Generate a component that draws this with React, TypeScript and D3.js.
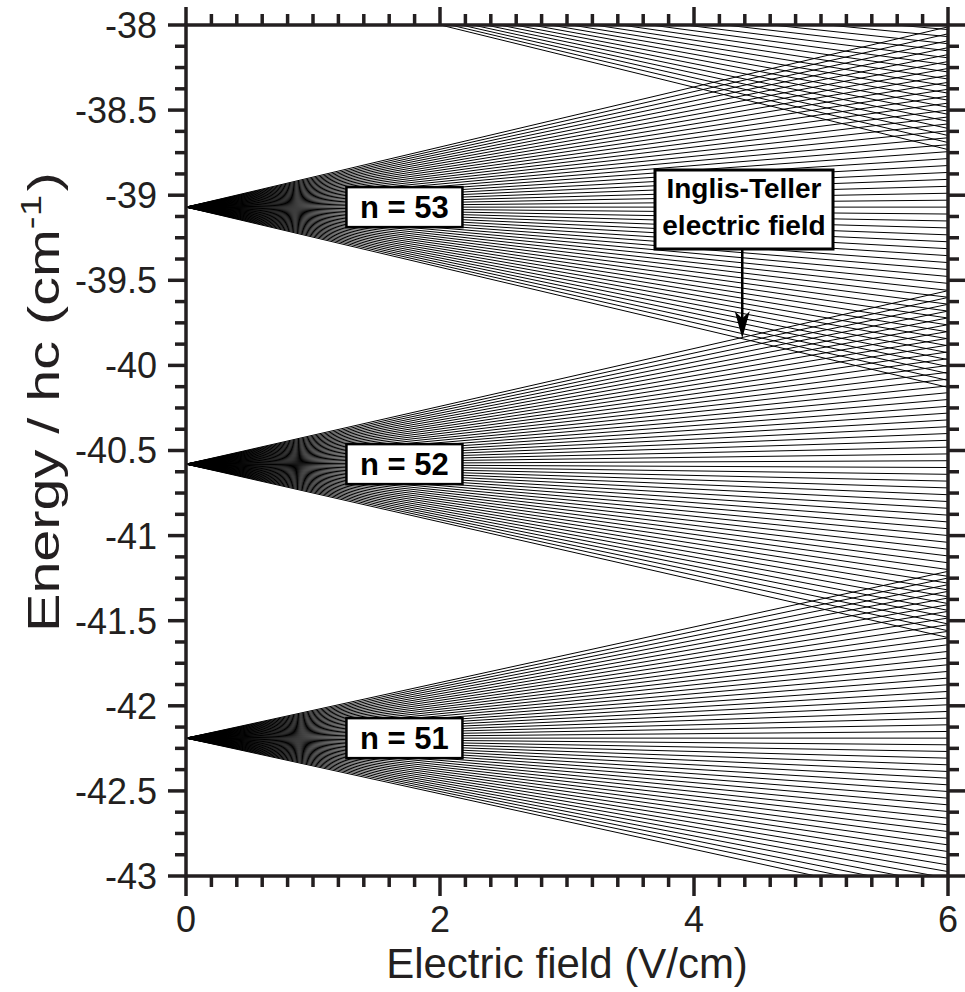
import React from "react";
import * as d3 from "d3";

// Zero-field energies of hydrogenic manifolds (cm^-1) and their maximum linear Stark shift at 6 V/cm
const manifoldN = [51, 52, 53, 54];
const zeroFieldEnergy = [-42.19, -40.58, -39.07, -37.633];
const maxShiftAt6 = [0.98, 1.019, 1.059, 1.099];
const fieldEnd = 6;

const xMajorTicks = [0, 2, 4, 6];
const yMajorTicks = [-43, -42.5, -42, -41.5, -41, -40.5, -40, -39.5, -39, -38.5, -38];

const manifoldLabels = ["n = 51", "n = 52", "n = 53"];
const labelEnergies = [-42.19, -40.58, -39.07];
const labelField = 1.72;

const annotationLines = ["Inglis-Teller", "electric field"];
const annotationTip = { field: 4.38, energy: -39.84 };

const W = 965;
const H = 992;
const M = { left: 186, right: 17, top: 25, bottom: 116 };
const INK = "#231f20";
const FONT = "'Liberation Sans', Arial, Helvetica, sans-serif";

export default function App() {
  const x = d3.scaleLinear().domain([0, 6]).range([M.left, W - M.right]);
  const y = d3.scaleLinear().domain([-43, -38]).range([H - M.bottom, M.top]);
  const line = d3
    .line<[number, number]>()
    .x((d) => x(d[0]))
    .y((d) => y(d[1]));

  const paths: string[] = [];
  manifoldN.forEach((n, i) => {
    for (let k = -(n - 1); k <= n - 1; k += 2) {
      const frac = k / (n - 1);
      const e0 = zeroFieldEnergy[i];
      const e1 = e0 + maxShiftAt6[i] * frac;
      paths.push(line([[0, e0], [fieldEnd, e1]]) as string);
    }
  });

  const xMinor = d3.range(0, 6.0001, 0.2).filter((v) => Math.abs(v / 2 - Math.round(v / 2)) > 1e-6);
  const yMinor = d3.range(-43, -37.999, 0.125).filter((v) => Math.abs(v * 2 - Math.round(v * 2)) > 1e-6);

  const x0 = x(0), x1 = x(6), y0 = y(-43), y1 = y(-38);
  const majLen = 18, minLen = 11;

  const boxW = 116, boxH = 40;
  const ax = x(annotationTip.field);
  const ay = y(annotationTip.energy);
  const annBox = { left: 655, top: 170, w: 178, h: 79 };

  return (
    <svg width={W} height={H} style={{ position: "absolute", left: 0, top: 0, background: "#fff" }} fontFamily={FONT}>
      <defs>
        <clipPath id="plotClip">
          <rect x={x0} y={y1} width={x1 - x0} height={y0 - y1} />
        </clipPath>
      </defs>
      <g clipPath="url(#plotClip)">
        {paths.map((d, i) => (
          <path key={i} d={d} stroke="#000" strokeWidth={1} fill="none" />
        ))}
      </g>

      {/* frame */}
      <rect x={x0} y={y1} width={x1 - x0} height={y0 - y1} fill="none" stroke={INK} strokeWidth={3.5} />

      {/* ticks */}
      <g stroke={INK} strokeWidth={3.5}>
        {xMajorTicks.map((v) => (
          <g key={"xm" + v}>
            <line x1={x(v)} x2={x(v)} y1={y0} y2={y0 + majLen + 2} />
            <line x1={x(v)} x2={x(v)} y1={y1} y2={y1 - majLen} />
          </g>
        ))}
        {xMinor.map((v, i) => (
          <g key={"xn" + i}>
            <line x1={x(v)} x2={x(v)} y1={y0} y2={y0 + minLen} />
            <line x1={x(v)} x2={x(v)} y1={y1} y2={y1 - minLen} />
          </g>
        ))}
        {yMajorTicks.map((v) => (
          <g key={"ym" + v}>
            <line x1={x0} x2={x0 - majLen} y1={y(v)} y2={y(v)} />
            <line x1={x1} x2={x1 + majLen} y1={y(v)} y2={y(v)} />
          </g>
        ))}
        {yMinor.map((v, i) => (
          <g key={"yn" + i}>
            <line x1={x0} x2={x0 - minLen} y1={y(v)} y2={y(v)} />
            <line x1={x1} x2={x1 + minLen} y1={y(v)} y2={y(v)} />
          </g>
        ))}
      </g>

      {/* tick labels */}
      <g fill={INK} fontSize={36}>
        {xMajorTicks.map((v) => (
          <text key={"xl" + v} x={x(v)} y={y0 + 56} textAnchor="middle">
            {String(v)}
          </text>
        ))}
        {yMajorTicks.map((v) => (
          <text key={"yl" + v} x={x0 - 29} y={y(v)} dy="0.36em" textAnchor="end">
            {String(v)}
          </text>
        ))}
      </g>

      {/* axis titles */}
      <text x={(x0 + x1) / 2} y={978} textAnchor="middle" fontSize={42} fill={INK}>
        Electric field (V/cm)
      </text>
      <g transform={`translate(59, ${402}) rotate(-90)`}>
        <text
          x={-230}
          y={0}
          fontSize={45}
          fill={INK}
          textLength={460}
          lengthAdjust="spacingAndGlyphs"
        >
          Energy / hc (cm
          <tspan fontSize={30} dy={-18}>-1</tspan>
          <tspan dy={18} dx={3}>)</tspan>
        </text>
      </g>

      {/* manifold labels */}
      {manifoldLabels.map((t, i) => {
        const cx = x(labelField);
        const cy = y(labelEnergies[i]);
        return (
          <g key={t}>
            <rect x={cx - boxW / 2} y={cy - boxH / 2} width={boxW} height={boxH} fill="#fff" stroke="#000" strokeWidth={2.5} />
            <text x={cx} y={cy + 11} textAnchor="middle" fontSize={31} fontWeight="bold" fill="#000">
              {t}
            </text>
          </g>
        );
      })}

      {/* annotation */}
      <line x1={ax} x2={ax} y1={annBox.top + annBox.h} y2={ay - 12} stroke="#000" strokeWidth={2.5} />
      <path
        d={`M${ax},${ay} L${ax - 7.5},${ay - 27} L${ax},${ay - 20} L${ax + 7.5},${ay - 27} Z`}
        fill="#000"
      />
      <rect x={annBox.left} y={annBox.top} width={annBox.w} height={annBox.h} fill="#fff" stroke="#000" strokeWidth={3} />
      {annotationLines.map((t, i) => (
        <text key={t} x={annBox.left + annBox.w / 2} y={annBox.top + 28 + i * 37} textAnchor="middle" fontSize={28} fontWeight="bold" fill="#000">
          {t}
        </text>
      ))}
    </svg>
  );
}
